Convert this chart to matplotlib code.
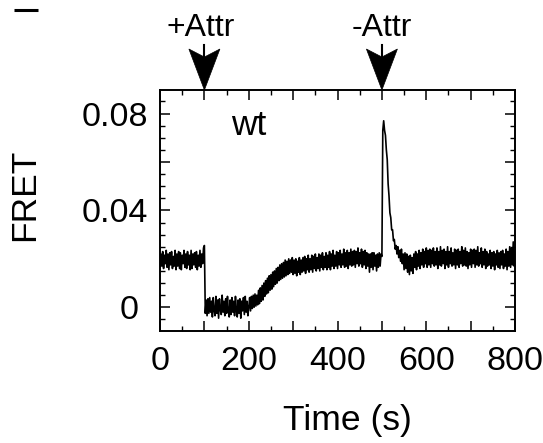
import numpy as np
import matplotlib
matplotlib.use('Agg')
import matplotlib.pyplot as plt
from matplotlib.patches import Polygon
from matplotlib.transforms import ScaledTranslation
from matplotlib.lines import Line2D
from matplotlib.ticker import FixedLocator, FixedFormatter, MultipleLocator

plt.rcParams['font.family'] = ['Liberation Sans', 'DejaVu Sans']

# FRET signal (units of 1e-3), one sample every 2 s
fret_pre = [  # 0-98 s
    16.5, 22, 17, 23, 16, 21.5, 18, 23.5, 16.5, 22,
    15.5, 22.5, 17.5, 23, 16, 21, 17, 23.5, 15.5, 22,
    17, 23, 16, 22.5, 15.5, 21.5, 18, 23.5, 16.5, 22,
    16, 23, 17.5, 21.5, 15.5, 23.5, 16, 22, 17.5, 22.5,
    16.5, 23, 15.5, 21.5, 17, 23.5, 16.5, 22, 18, 24.5]
fret_low = [  # 100-198 s
    25.5, -2.5, 3, -3.5, 3.5, -2.5, 4, -2, 2.5, -4,
    4, -1.5, -3.5, 4.5, -2.5, 3, -4.5, 3.5, -1, -3,
    5, -2, 2.5, -3.5, 3.5, -2.5, 4.5, -1.5, -4, 3,
    -3, 4, -2, 2.5, -3.5, 4.5, -1, -4, 3, -2.5,
    3.5, -4.5, 2.5, -1.5, 4, -3, 4.5, -2, 2.5, -3.5]
fret_rise = [  # 200-298 s
    0, 4, -1.5, 4.5, -0.5, 5, 0, 5.5, 0.5, 5,
    1, 7, 1.5, 8, 2.5, 9, 3, 10, 4.5, 11,
    5.5, 12, 6, 13, 7, 13.5, 7.5, 14.5, 8.5, 15,
    9.5, 16, 10, 16.5, 11, 17.5, 11.5, 18, 12, 18.5,
    12.5, 19.5, 13, 19, 13.5, 20, 14, 19.5, 14.5, 20.5]
fret_plateau = [  # 300-498 s
    13.5, 19.5, 14, 20, 13, 19, 14.5, 20.5, 13.5, 19.5,
    14.5, 20.5, 15, 21, 14, 20, 15.5, 21.5, 14.5, 20,
    15.5, 21.5, 14.5, 21, 16, 22, 15, 20.5, 16, 22,
    15, 21.5, 16.5, 22.5, 15.5, 21, 16.5, 22.5, 15.5, 21.5,
    16.5, 23, 15.5, 22, 17, 23.5, 16, 21.5, 17, 23,
    16, 22.5, 17.5, 23.5, 16.5, 22, 17.5, 24, 16.5, 22.5,
    17, 23.5, 16, 22.5, 17.5, 24, 17, 23, 17.5, 23.5,
    16.5, 23, 18, 24.5, 17, 22.5, 18, 24, 16.5, 23,
    17.5, 23.5, 16, 22.5, 17, 22, 14.5, 22, 16.5, 22.5,
    15.5, 22.5, 17, 21.5, 15, 22, 16.5, 22.5, 17, 22]
fret_peak = [  # 500-548 s
    21, 73, 77, 73, 71, 65, 61, 51, 46, 39,
    37, 32, 32, 27.5, 28, 24, 25.5, 22, 25, 20.5,
    23.5, 19, 24, 18, 22]
fret_post = [  # 550-800 s
    15.5, 22.5, 16, 22, 14.5, 21, 13.5, 21.5, 15, 20.5,
    14, 22, 16.5, 23, 15.5, 22, 17, 23.5, 16, 22.5,
    17.5, 24, 16.5, 23, 18, 24.5, 16.5, 23.5, 17.5, 24,
    16.5, 23.5, 18, 24.5, 17, 23, 17.5, 24.5, 16, 23,
    17.5, 25, 17, 23.5, 18, 24, 16, 23, 17.5, 25,
    16.5, 23, 18, 24.5, 17, 22.5, 17.5, 24, 16, 23.5,
    17.5, 24, 16.5, 23, 18, 25, 17, 23.5, 17.5, 24.5,
    17, 23, 16, 22.5, 17.5, 24, 16.5, 23.5, 18, 24,
    16.5, 23.5, 17.5, 25, 17, 22.5, 18, 24.5, 16.5, 23,
    17.5, 24, 16, 23, 17, 22, 17.5, 23.5, 16, 22.5,
    17, 23, 15.5, 22, 17.5, 23.5, 16.5, 22.5, 16, 23,
    17.5, 23.5, 16, 22, 17, 24, 15.5, 23, 17, 25,
    16.5, 24.5, 17.5, 27, 17, 23]
sample_step_s = 2

x_ticks = [0, 100, 200, 300, 400, 500, 600, 700, 800]
x_tick_labels = ['0', '', '200', '', '400', '', '600', '', '800']
y_ticks = [0, 0.02, 0.04, 0.06, 0.08]
y_tick_labels = ['0 ', '', '0.04', '', '0.08']
event_times = [100, 500]
event_labels = ['+Attr', '-Attr']
trace_label = 'wt'

fret_milli = np.concatenate([fret_pre, fret_low, fret_rise,
                             fret_plateau, fret_peak, fret_post])
time_s = sample_step_s * np.arange(len(fret_milli))
fret = fret_milli * 1e-3

fig = plt.figure(figsize=(5.43, 4.43), dpi=100)
ax = fig.add_axes([0.2947, 0.2528, 0.6538, 0.544])
ax.plot(time_s, fret, color='black', lw=1.2)
ax.set_xlim(0, 800)
ax.set_ylim(-0.0098, 0.0897)

ax.xaxis.set_major_locator(FixedLocator(x_ticks))
ax.xaxis.set_major_formatter(FixedFormatter(x_tick_labels))
ax.xaxis.set_minor_locator(MultipleLocator(50))
ax.yaxis.set_major_locator(FixedLocator(y_ticks))
ax.yaxis.set_major_formatter(FixedFormatter(y_tick_labels))
ax.yaxis.set_minor_locator(MultipleLocator(0.005))

ax.tick_params(which='both', direction='in', top=True, right=True, colors='black')
ax.tick_params(which='major', length=7, width=1.1, labelsize=24.5)
ax.tick_params(which='minor', length=3.5, width=1.0)
ax.tick_params(axis='x', which='major', pad=11)
ax.tick_params(axis='y', which='major', pad=8.6)
for s in ax.spines.values():
    s.set_linewidth(1.4)

ax.set_xlabel('Time (s)', fontsize=25.5, va='center')
ax.xaxis.set_label_coords(0.528, -0.37)
ax.set_ylabel('FRET', fontsize=25.5, va='center', ha='center')
ax.yaxis.set_label_coords(-0.38, 0.566)

ax.text(200, 0.071, trace_label, fontsize=25.5, ha='center', va='baseline')

# event arrows above the plot
head = np.array([[0, 0], [0.155, 0.41], [0, 0.33], [-0.155, 0.41]])
text_dx = [-3, 0]
for ev, lab, dx in zip(event_times, event_labels, text_dx):
    trans = fig.dpi_scale_trans + ScaledTranslation(ev, 1.0, ax.get_xaxis_transform())
    fig.add_artist(Polygon(head, closed=True, transform=trans,
                           facecolor='black', edgecolor='black', lw=0.5))
    fig.add_artist(Line2D([0, 0], [0.33, 0.455], transform=trans,
                          color='black', lw=1.5))
    ax.annotate(lab, xy=(ev, 1.0), xycoords=('data', 'axes fraction'),
                xytext=(dx, 39), textcoords='offset points',
                ha='center', va='baseline', fontsize=23,
                annotation_clip=False)

# fragment of a panel mark at top-left corner
fig.add_artist(Line2D([0.025, 0.070], [0.977, 0.977], transform=fig.transFigure,
                      color='black', lw=2.2, solid_capstyle='butt'))

fig.savefig('out.png', dpi=100)
